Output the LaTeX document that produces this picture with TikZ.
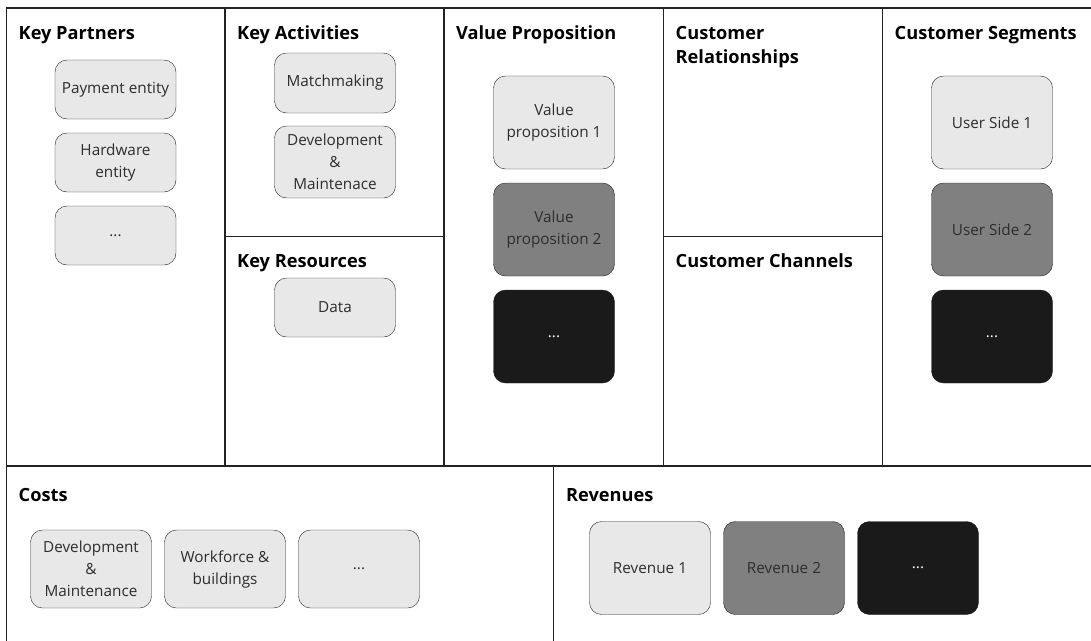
\documentclass[tikz,border=0pt]{standalone}
\usepackage{fontspec}
\setmainfont{Open Sans}
\usetikzlibrary{positioning}
\definecolor{fill_light}{RGB}{232,232,232}
\definecolor{fill_mid}{RGB}{128,128,128}
\definecolor{fill_dark}{RGB}{26,26,26}
\definecolor{line_gray}{RGB}{34,34,34}
\definecolor{text_gray}{RGB}{45,45,45}

\begin{document}
\begin{tikzpicture}[x=1pt,y=-1pt]
    \tikzstyle{head}=[anchor=base west, font=\fontsize{18.2}{24}\selectfont\bfseries, text=black, align=left, inner sep=0pt]
    \tikzstyle{card}=[draw=line_gray, rounded corners=12pt, minimum width=121pt, minimum height=59pt, fill=fill_light, text=text_gray, align=center, font=\fontsize{15.3}{22}\selectfont, inner sep=2pt]
    \tikzstyle{cardmid}=[card, fill=fill_mid]
    \tikzstyle{carddark}=[card, fill=fill_dark, text=white]
    \tikzstyle{tall}=[minimum height=93pt]

    \useasboundingbox (0,0) rectangle (1091,640);
    \clip (0,0) rectangle (1091,640);

    % canvas frame and dividers
    \draw[line_gray, line width=1.5pt] (6.5,8) rectangle (1101.5,700);
    \draw[line_gray, line width=1.5pt] (6.5,466) -- (1101.5,466);
    \draw[line_gray, line width=1.5pt] (225,8) -- (225,466)
                                      (444,8) -- (444,466)
                                      (663.5,8) -- (663.5,466)
                                      (882.5,8) -- (882.5,466)
                                      (553.7,466) -- (553.7,700);
    \draw[line_gray, line width=1.5pt] (225,236.5) -- (444,236.5)
                                      (663.5,236.5) -- (882.5,236.5);

    % block titles
    \node[head] (t_kp)  at (18.5,39)   {Key Partners};
    \node[head] (t_ka)  at (237,39)    {Key Activities};
    \node[head] (t_kr)  at (237,267)   {Key Resources};
    \node[head] (t_vp)  at (456,39)    {Value Proposition};
    \node[head] (t_cr)  at (675.5,63)  {Customer\\Relationships};
    \node[head] (t_cc)  at (675.5,267) {Customer Channels};
    \node[head] (t_cs)  at (894.5,39)  {Customer Segments};
    \node[head] (t_co)  at (18.5,501)  {Costs};
    \node[head] (t_re)  at (566,501)   {Revenues};

    % key partners
    \node[card] (pay)    at (115.5,89.5)  {Payment entity};
    \node[card] (hw)     at (115.5,162.5) {Hardware\\entity};
    \node[card] (kpmore) at (115.5,235.5) {...};

    % key activities and resources
    \node[card, minimum height=60pt] (match)  at (335,83)    {Matchmaking};
    \node[card, minimum height=72pt] (devact) at (335,162)   {Development\\\&\\Maintenace};
    \node[card]                      (data)   at (335,307.5) {Data};

    % value proposition
    \node[card, tall]     (vp1)    at (554,122.5) {Value\\proposition 1};
    \node[cardmid, tall]  (vp2)    at (554,229.5) {Value\\proposition 2};
    \node[carddark, tall] (vpmore) at (554,336.5) {...};

    % customer segments
    \node[card, tall]     (us1)    at (992,122.5) {User Side 1};
    \node[cardmid, tall]  (us2)    at (992,229.5) {User Side 2};
    \node[carddark, tall] (usmore) at (992,336.5) {...};

    % costs
    \node[card, minimum height=78pt] (devcost)  at (91,569)  {Development\\\&\\Maintenance};
    \node[card, minimum height=78pt] (work)     at (225,569) {Workforce \&\\buildings};
    \node[card, minimum height=78pt] (costmore) at (359,569) {...};

    % revenues
    \node[card, tall]     (rev1)    at (650,568) {Revenue 1};
    \node[cardmid, tall]  (rev2)    at (784,568) {Revenue 2};
    \node[carddark, tall] (revmore) at (918,568) {...};
\end{tikzpicture}
\end{document}
